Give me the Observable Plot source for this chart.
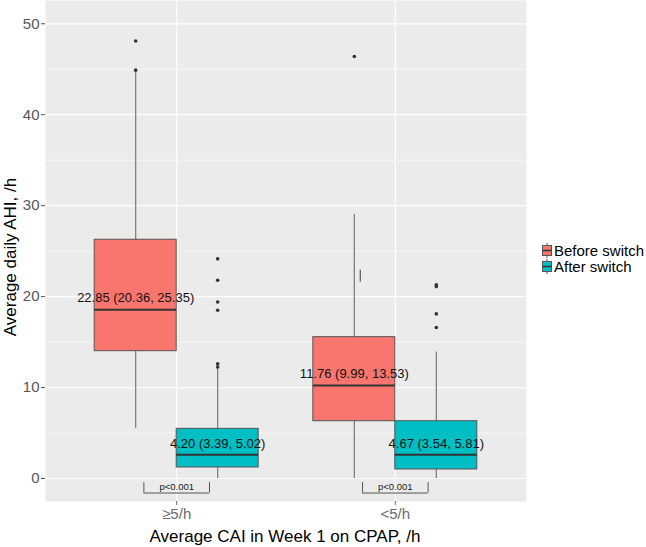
<!DOCTYPE html>
<html><head><meta charset="utf-8">
<script src="https://cdn.jsdelivr.net/npm/d3@7"></script>
<script src="https://cdn.jsdelivr.net/npm/@observablehq/plot@0.6"></script>
<style>
body{margin:0;background:#fff;font-family:"Liberation Sans",Arial,sans-serif;}
#wrap{position:relative;width:646px;height:547px;overflow:hidden;}
#wrap > svg{position:absolute;left:0;top:0;}
.ytitle{position:absolute;left:10px;top:257px;transform:translate(-50%,-50%) rotate(-90deg);font-size:17px;line-height:17px;white-space:nowrap;color:#000;}
.xtitle{position:absolute;left:285px;top:537px;transform:translate(-50%,-50%);font-size:17px;white-space:nowrap;color:#000;}
.legend{position:absolute;left:541px;top:243px;font-size:15px;line-height:15.5px;color:#000;white-space:nowrap;}
.legend div{display:flex;align-items:center;height:15.5px;white-space:nowrap;}
.legend svg{display:block;margin-right:1px;flex:none;}
</style></head><body><div id="wrap"></div>
<script>
const groups = ["≥5/h", "<5/h"];
const series = ["Before switch", "After switch"];
const colors = ["#F8766D", "#00BFC4"];
// box order: [≥5/h Before, ≥5/h After, <5/h Before, <5/h After]
const q1 = [14.0, 1.21, 6.3, 0.99];
const medians = [18.55, 2.6, 10.23, 2.6];
const q3 = [26.25, 5.46, 15.54, 6.3];
const whiskerLow = [5.53, 0, 0, 0];
const whiskerHigh = [44.87, 12.0, 29.03, 13.9];
const outliers = [[48.1, 44.9], [24.15, 21.8, 19.4, 18.5, 12.6, 12.25], [46.4], [21.3, 21.1, 18.1, 16.6]];
const meanLabels = ["22.85 (20.36, 25.35)", "4.20 (3.39, 5.02)", "11.76 (9.99, 13.53)", "4.67 (3.54, 5.81)"];
const labelY = [19.9, 3.8, 11.5, 3.8];
const pLabels = ["p<0.001", "p<0.001"];
const strayLow = [21.6];
const strayHigh = [22.9];
const yTicks = [0, 10, 20, 30, 40, 50];
const yMinor = [5, 15, 25, 35, 45];

const W = 646, H = 547;
const boxes = q1.map((v, i) => {
  const g = Math.floor(i / 2), s = i % 2;
  const c = g + 1;
  return {
    g, s, series: series[s],
    x1: s ? c : c - 0.375, x2: s ? c + 0.375 : c, xc: s ? c + 0.1875 : c - 0.1875,
    q1: v, med: medians[i], q3: q3[i], lo: whiskerLow[i], hi: whiskerHigh[i],
    label: meanLabels[i], ly: labelY[i]
  };
});
const dots = boxes.flatMap((b, i) => outliers[i].map(y => ({x: b.xc, y})));
const brackets = groups.map((g, i) => ({x1: i + 1 - 0.15, x2: i + 1 + 0.15, xc: i + 1, label: pLabels[i]}));
const stray = strayLow.map((v, i) => ({x: boxes[2].xc, y1: v, y2: strayHigh[i]}));

const chart = Plot.plot({
  width: W, height: H,
  marginLeft: 45, marginRight: 120, marginTop: 0, marginBottom: 46,
  style: {fontFamily: "'Liberation Sans', Arial, sans-serif", background: "white"},
  x: {type: "linear", domain: [0.4, 2.6]},
  y: {domain: [-2.53, 52.56]},
  marks: [
    Plot.frame({fill: "#EBEBEB", stroke: null}),
    Plot.ruleY(yMinor, {stroke: "white", strokeWidth: 0.6}),
    Plot.ruleY(yTicks, {stroke: "white", strokeWidth: 1.2}),
    Plot.ruleX([1, 2], {stroke: "white", strokeWidth: 1.2}),
    Plot.axisY({ticks: yTicks, tickSize: 4, tickPadding: 2, fontSize: 15, color: "#555", label: null}),
    Plot.axisX({ticks: [1, 2], tickFormat: d => groups[d - 1], tickSize: 4, tickPadding: 3, fontSize: 15, color: "#6b6b6b", label: null}),
    Plot.ruleX(boxes, {x: "xc", y1: "lo", y2: "hi", stroke: "#777", strokeWidth: 1.2}),
    Plot.ruleX(stray, {x: "x", y1: "y1", y2: "y2", dx: 6, stroke: "#666", strokeWidth: 1.4}),
    Plot.rect(boxes, {x1: "x1", x2: "x2", y1: "q1", y2: "q3", fill: (d) => colors[d.s], stroke: "#555", strokeWidth: 1}),
    Plot.ruleY(boxes, {x1: "x1", x2: "x2", y: "med", stroke: "#333", strokeWidth: 2}),
    Plot.dot(dots, {x: "x", y: "y", r: 1.8, fill: "#333", stroke: null}),
    Plot.text(boxes, {x: "xc", y: "ly", text: "label", fontSize: 13, fill: "#111"}),
    Plot.ruleY(brackets, {x1: "x1", x2: "x2", y: -1.6, stroke: "#444", strokeWidth: 0.9}),
    Plot.ruleX(brackets, {x: "x1", y1: -1.6, y2: -0.45, stroke: "#444", strokeWidth: 0.9}),
    Plot.ruleX(brackets, {x: "x2", y1: -1.6, y2: -0.45, stroke: "#444", strokeWidth: 0.9}),
    Plot.text(brackets, {x: "xc", y: -0.95, text: "label", fontSize: 9.5, fill: "#222"})
  ]
});
const wrap = document.getElementById("wrap");
wrap.appendChild(chart);

const yt = document.createElement("div"); yt.className = "ytitle"; yt.textContent = "Average daily AHI, /h"; wrap.appendChild(yt);
const xt = document.createElement("div"); xt.className = "xtitle"; xt.textContent = "Average CAI in Week 1 on CPAP, /h"; wrap.appendChild(xt);
const lg = document.createElement("div"); lg.className = "legend";
series.forEach((s, i) => {
  const row = document.createElement("div");
  row.innerHTML = `<svg width="12" height="15" viewBox="0 0 12 15"><line x1="6" x2="6" y1="0" y2="15" stroke="#555" stroke-width="1"/><rect x="1.5" y="2.5" width="9" height="10" fill="${colors[i]}" stroke="#555" stroke-width="1"/><line x1="1.5" x2="10.5" y1="7.5" y2="7.5" stroke="#333" stroke-width="1.5"/></svg><span></span>`;
  row.querySelector("span").textContent = s;
  lg.appendChild(row);
});
wrap.appendChild(lg);
</script>
</body></html>
